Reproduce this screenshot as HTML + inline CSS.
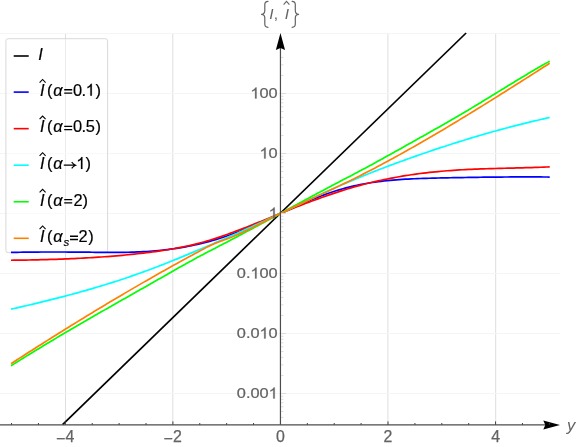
<!DOCTYPE html>
<html><head><meta charset="utf-8"><title>plot</title>
<style>html,body{margin:0;padding:0;background:#fff;}body{width:576px;height:447px;overflow:hidden;position:relative;font-family:"Liberation Sans",sans-serif;}</style></head>
<body>
<svg width="576" height="447" viewBox="0 0 576 447" style="position:absolute;left:0;top:0;will-change:transform;opacity:0.999">
<rect width="576" height="447" fill="#fff"/>
<line x1="65.5" y1="33" x2="65.5" y2="424.5" stroke="#dedede" stroke-width="1"/>
<line x1="172.8" y1="33" x2="172.8" y2="424.5" stroke="#dedede" stroke-width="1"/>
<line x1="387.9" y1="33" x2="387.9" y2="424.5" stroke="#dedede" stroke-width="1"/>
<line x1="495.7" y1="33" x2="495.7" y2="424.5" stroke="#dedede" stroke-width="1"/>
<line x1="0" y1="33.50" x2="560" y2="33.50" stroke="#f5f5f5" stroke-width="1"/>
<line x1="0" y1="93.50" x2="560" y2="93.50" stroke="#f5f5f5" stroke-width="1"/>
<line x1="0" y1="153.50" x2="560" y2="153.50" stroke="#f5f5f5" stroke-width="1"/>
<line x1="0" y1="213.50" x2="560" y2="213.50" stroke="#f5f5f5" stroke-width="1"/>
<line x1="0" y1="273.50" x2="560" y2="273.50" stroke="#f5f5f5" stroke-width="1"/>
<line x1="0" y1="333.50" x2="560" y2="333.50" stroke="#f5f5f5" stroke-width="1"/>
<line x1="0" y1="393.50" x2="560" y2="393.50" stroke="#f5f5f5" stroke-width="1"/>
<rect x="5.9" y="38.7" width="101.7" height="213.9" rx="2.2" ry="2.2" fill="rgba(255,255,255,0.4)" stroke="#d9d9d9" stroke-width="1"/>
<g font-family="Liberation Sans, sans-serif" font-size="16.4" fill="#000" stroke="#000" stroke-width="0.2">
<line x1="13.7" y1="56.0" x2="28.7" y2="56.0" stroke="#000000" stroke-width="1.6"/>
<text x="38.3" y="59.8" font-style="italic">I</text>
<line x1="13.7" y1="92.1" x2="28.7" y2="92.1" stroke="#0000ff" stroke-width="1.6"/>
<text x="40.0" y="95.65" font-style="italic">I</text>
<path d="M39.6 82.55000000000001 L42.6 79.45 L45.6 82.55000000000001" fill="none" stroke="#000" stroke-width="1.1"/>
<text x="46.9" y="95.65">(</text>
<text x="53.2" y="95.65" font-style="italic">α</text>
<path d="M64.2 89.75 h8 M64.2 93.05000000000001 h8" fill="none" stroke="#000" stroke-width="1.35"/><text x="73.1" y="95.65">0</text><text x="81.6" y="95.65">.</text><g transform="translate(85.70 95.65) scale(1.0 1)" font-size="16.4"><path vector-effect="non-scaling-stroke" transform="translate(0.00 0) scale(0.00801 -0.00801)" d="M763 0H583V1147Q518 1085 412.5 1023Q307 961 223 930V1104Q374 1175 487 1276Q600 1377 647 1472H763Z"/></g><text x="95.5" y="95.65">)</text>
<line x1="13.7" y1="128.64999999999998" x2="28.7" y2="128.64999999999998" stroke="#ff0000" stroke-width="1.6"/>
<text x="40.0" y="132.27" font-style="italic">I</text>
<path d="M39.6 119.17000000000002 L42.6 116.07000000000001 L45.6 119.17000000000002" fill="none" stroke="#000" stroke-width="1.1"/>
<text x="46.9" y="132.27">(</text>
<text x="53.2" y="132.27" font-style="italic">α</text>
<path d="M64.2 126.37 h8 M64.2 129.67000000000002 h8" fill="none" stroke="#000" stroke-width="1.35"/><text x="73.1" y="132.27">0</text><text x="81.6" y="132.27">.</text><g transform="translate(85.70 132.27) scale(1.0 1)" font-size="16.4"><text x="0.00" y="0">5</text></g><text x="95.5" y="132.27">)</text>
<line x1="13.7" y1="165.2" x2="28.7" y2="165.2" stroke="#00ffff" stroke-width="1.6"/>
<text x="40.0" y="168.89" font-style="italic">I</text>
<path d="M39.6 155.79 L42.6 152.69 L45.6 155.79" fill="none" stroke="#000" stroke-width="1.1"/>
<text x="46.9" y="168.89">(</text>
<text x="53.2" y="168.89" font-style="italic">α</text>
<path d="M63.8 165.19 L75.3 165.19 M71.7 161.99 Q73.0 164.19 75.6 165.19 Q73.0 166.19 71.7 168.39" fill="none" stroke="#000" stroke-width="1.15"/>
<g transform="translate(76.30 168.89) scale(1.0 1)" font-size="16.4"><path vector-effect="non-scaling-stroke" transform="translate(0.00 0) scale(0.00801 -0.00801)" d="M763 0H583V1147Q518 1085 412.5 1023Q307 961 223 930V1104Q374 1175 487 1276Q600 1377 647 1472H763Z"/></g><text x="85.6" y="168.89">)</text>
<line x1="13.7" y1="201.75" x2="28.7" y2="201.75" stroke="#00ff00" stroke-width="1.6"/>
<text x="40.0" y="205.51" font-style="italic">I</text>
<path d="M39.6 192.41 L42.6 189.31 L45.6 192.41" fill="none" stroke="#000" stroke-width="1.1"/>
<text x="46.9" y="205.51">(</text>
<text x="53.2" y="205.51" font-style="italic">α</text>
<path d="M64.2 199.60999999999999 h8 M64.2 202.91 h8" fill="none" stroke="#000" stroke-width="1.35"/><text x="73.6" y="205.51">2</text><text x="82.5" y="205.51">)</text>
<line x1="13.7" y1="238.29999999999998" x2="28.7" y2="238.29999999999998" stroke="#ff8000" stroke-width="1.6"/>
<text x="40.0" y="242.13" font-style="italic">I</text>
<path d="M39.6 229.03 L42.6 225.93 L45.6 229.03" fill="none" stroke="#000" stroke-width="1.1"/>
<text x="46.9" y="242.13">(</text>
<text x="53.2" y="242.13" font-style="italic">α</text>
<text x="63.4" y="245.63" font-style="italic" font-size="11.5">s</text><path d="M70.0 236.23 h8 M70.0 239.53 h8" fill="none" stroke="#000" stroke-width="1.35"/><text x="78.6" y="242.13">2</text><text x="88.3" y="242.13">)</text>
</g>
<path d="M62.59 424.6 L466.10 33.0" fill="none" stroke="#000" stroke-width="1.7"/>
<path d="M11.00 252.43 L14.01 252.37 L17.02 252.30 L20.03 252.25 L23.04 252.20 L26.05 252.16 L29.06 252.12 L32.07 252.08 L35.08 252.06 L38.09 252.03 L41.09 252.01 L44.10 252.00 L47.11 251.99 L50.12 251.99 L53.13 251.98 L56.14 251.99 L59.15 251.99 L62.16 252.00 L65.17 252.02 L68.18 252.03 L71.19 252.05 L74.20 252.07 L77.21 252.10 L80.22 252.13 L83.23 252.16 L86.24 252.19 L89.25 252.22 L92.26 252.26 L95.27 252.29 L98.28 252.32 L101.28 252.35 L104.29 252.37 L107.30 252.39 L110.31 252.40 L113.32 252.40 L116.33 252.39 L119.34 252.37 L122.35 252.34 L125.36 252.30 L128.37 252.24 L131.38 252.16 L134.39 252.07 L137.40 251.96 L140.41 251.83 L143.42 251.67 L146.43 251.50 L149.44 251.30 L152.45 251.08 L155.46 250.83 L158.47 250.56 L161.47 250.26 L164.48 249.93 L167.49 249.57 L170.50 249.19 L173.51 248.78 L176.52 248.33 L179.53 247.86 L182.54 247.36 L185.55 246.83 L188.56 246.26 L191.57 245.66 L194.58 245.03 L197.59 244.37 L200.60 243.67 L203.61 242.93 L206.62 242.17 L209.63 241.36 L212.64 240.52 L215.65 239.65 L218.66 238.73 L221.66 237.78 L224.67 236.79 L227.68 235.76 L230.69 234.69 L233.70 233.58 L236.71 232.44 L239.72 231.27 L242.73 230.07 L245.74 228.84 L248.75 227.58 L251.76 226.31 L254.77 225.01 L257.78 223.69 L260.79 222.36 L263.80 221.02 L266.81 219.66 L269.82 218.29 L272.83 216.92 L275.84 215.55 L278.85 214.17 L281.85 212.79 L284.86 211.42 L287.87 210.05 L290.88 208.69 L293.89 207.34 L296.90 206.00 L299.91 204.67 L302.92 203.36 L305.93 202.08 L308.94 200.81 L311.95 199.56 L314.96 198.35 L317.97 197.16 L320.98 196.00 L323.99 194.87 L327.00 193.78 L330.01 192.73 L333.02 191.72 L336.03 190.75 L339.04 189.83 L342.04 188.95 L345.05 188.12 L348.06 187.33 L351.07 186.59 L354.08 185.89 L357.09 185.24 L360.10 184.62 L363.11 184.04 L366.12 183.50 L369.13 182.99 L372.14 182.52 L375.15 182.08 L378.16 181.68 L381.17 181.30 L384.18 180.95 L387.19 180.63 L390.20 180.34 L393.21 180.07 L396.22 179.82 L399.23 179.59 L402.23 179.39 L405.24 179.20 L408.25 179.04 L411.26 178.89 L414.27 178.75 L417.28 178.62 L420.29 178.51 L423.30 178.41 L426.31 178.32 L429.32 178.24 L432.33 178.16 L435.34 178.09 L438.35 178.02 L441.36 177.95 L444.37 177.89 L447.38 177.83 L450.39 177.76 L453.40 177.70 L456.41 177.65 L459.42 177.59 L462.42 177.54 L465.43 177.48 L468.44 177.43 L471.45 177.39 L474.46 177.34 L477.47 177.30 L480.48 177.25 L483.49 177.21 L486.50 177.18 L489.51 177.14 L492.52 177.11 L495.53 177.08 L498.54 177.05 L501.55 177.03 L504.56 177.01 L507.57 176.99 L510.58 176.97 L513.59 176.96 L516.60 176.95 L519.61 176.94 L522.61 176.93 L525.62 176.93 L528.63 176.93 L531.64 176.94 L534.65 176.94 L537.66 176.95 L540.67 176.97 L543.68 176.99 L546.69 177.01 L549.70 177.03" fill="none" stroke="#0000ff" stroke-width="1.7" stroke-linejoin="round"/>
<path d="M11.00 260.26 L14.01 260.22 L17.02 260.18 L20.03 260.14 L23.04 260.09 L26.05 260.04 L29.06 259.98 L32.07 259.92 L35.08 259.86 L38.09 259.79 L41.09 259.72 L44.10 259.64 L47.11 259.56 L50.12 259.47 L53.13 259.37 L56.14 259.28 L59.15 259.17 L62.16 259.06 L65.17 258.94 L68.18 258.82 L71.19 258.69 L74.20 258.55 L77.21 258.41 L80.22 258.26 L83.23 258.10 L86.24 257.93 L89.25 257.76 L92.26 257.58 L95.27 257.39 L98.28 257.19 L101.28 256.98 L104.29 256.77 L107.30 256.54 L110.31 256.31 L113.32 256.07 L116.33 255.81 L119.34 255.55 L122.35 255.28 L125.36 255.00 L128.37 254.70 L131.38 254.40 L134.39 254.09 L137.40 253.76 L140.41 253.43 L143.42 253.08 L146.43 252.72 L149.44 252.35 L152.45 251.96 L155.46 251.56 L158.47 251.14 L161.47 250.71 L164.48 250.25 L167.49 249.78 L170.50 249.28 L173.51 248.76 L176.52 248.21 L179.53 247.64 L182.54 247.04 L185.55 246.41 L188.56 245.76 L191.57 245.07 L194.58 244.34 L197.59 243.59 L200.60 242.80 L203.61 241.97 L206.62 241.10 L209.63 240.21 L212.64 239.28 L215.65 238.32 L218.66 237.34 L221.66 236.33 L224.67 235.29 L227.68 234.23 L230.69 233.14 L233.70 232.04 L236.71 230.91 L239.72 229.77 L242.73 228.61 L245.74 227.44 L248.75 226.26 L251.76 225.06 L254.77 223.86 L257.78 222.65 L260.79 221.43 L263.80 220.20 L266.81 218.97 L269.82 217.74 L272.83 216.51 L275.84 215.28 L278.85 214.06 L281.85 212.84 L284.86 211.62 L287.87 210.41 L290.88 209.21 L293.89 208.01 L296.90 206.83 L299.91 205.65 L302.92 204.49 L305.93 203.33 L308.94 202.19 L311.95 201.06 L314.96 199.94 L317.97 198.84 L320.98 197.75 L323.99 196.68 L327.00 195.63 L330.01 194.59 L333.02 193.57 L336.03 192.57 L339.04 191.59 L342.04 190.63 L345.05 189.69 L348.06 188.78 L351.07 187.88 L354.08 187.01 L357.09 186.17 L360.10 185.35 L363.11 184.55 L366.12 183.77 L369.13 183.02 L372.14 182.29 L375.15 181.59 L378.16 180.90 L381.17 180.24 L384.18 179.60 L387.19 178.98 L390.20 178.38 L393.21 177.81 L396.22 177.25 L399.23 176.72 L402.23 176.20 L405.24 175.71 L408.25 175.23 L411.26 174.78 L414.27 174.34 L417.28 173.93 L420.29 173.53 L423.30 173.15 L426.31 172.79 L429.32 172.45 L432.33 172.12 L435.34 171.82 L438.35 171.53 L441.36 171.26 L444.37 171.00 L447.38 170.76 L450.39 170.54 L453.40 170.33 L456.41 170.13 L459.42 169.95 L462.42 169.77 L465.43 169.61 L468.44 169.47 L471.45 169.33 L474.46 169.20 L477.47 169.08 L480.48 168.96 L483.49 168.86 L486.50 168.76 L489.51 168.66 L492.52 168.57 L495.53 168.49 L498.54 168.41 L501.55 168.33 L504.56 168.26 L507.57 168.18 L510.58 168.11 L513.59 168.03 L516.60 167.96 L519.61 167.88 L522.61 167.80 L525.62 167.72 L528.63 167.64 L531.64 167.55 L534.65 167.45 L537.66 167.35 L540.67 167.24 L543.68 167.13 L546.69 167.00 L549.70 166.87" fill="none" stroke="#ff0000" stroke-width="1.7" stroke-linejoin="round"/>
<path d="M11.00 309.20 L14.01 308.52 L17.02 307.83 L20.03 307.14 L23.04 306.44 L26.05 305.74 L29.06 305.04 L32.07 304.33 L35.08 303.61 L38.09 302.89 L41.09 302.16 L44.10 301.42 L47.11 300.68 L50.12 299.93 L53.13 299.17 L56.14 298.41 L59.15 297.64 L62.16 296.86 L65.17 296.07 L68.18 295.27 L71.19 294.47 L74.20 293.66 L77.21 292.83 L80.22 292.00 L83.23 291.16 L86.24 290.31 L89.25 289.44 L92.26 288.57 L95.27 287.69 L98.28 286.80 L101.28 285.89 L104.29 284.97 L107.30 284.05 L110.31 283.11 L113.32 282.15 L116.33 281.19 L119.34 280.21 L122.35 279.22 L125.36 278.22 L128.37 277.20 L131.38 276.17 L134.39 275.13 L137.40 274.07 L140.41 273.00 L143.42 271.91 L146.43 270.81 L149.44 269.69 L152.45 268.56 L155.46 267.42 L158.47 266.26 L161.47 265.10 L164.48 263.92 L167.49 262.72 L170.50 261.52 L173.51 260.31 L176.52 259.09 L179.53 257.86 L182.54 256.63 L185.55 255.38 L188.56 254.13 L191.57 252.87 L194.58 251.61 L197.59 250.34 L200.60 249.06 L203.61 247.78 L206.62 246.50 L209.63 245.21 L212.64 243.92 L215.65 242.63 L218.66 241.32 L221.66 240.02 L224.67 238.71 L227.68 237.39 L230.69 236.07 L233.70 234.74 L236.71 233.41 L239.72 232.07 L242.73 230.73 L245.74 229.38 L248.75 228.03 L251.76 226.67 L254.77 225.31 L257.78 223.93 L260.79 222.56 L263.80 221.17 L266.81 219.78 L269.82 218.39 L272.83 216.99 L275.84 215.58 L278.85 214.16 L281.85 212.74 L284.86 211.31 L287.87 209.88 L290.88 208.44 L293.89 207.00 L296.90 205.56 L299.91 204.12 L302.92 202.68 L305.93 201.25 L308.94 199.82 L311.95 198.39 L314.96 196.97 L317.97 195.56 L320.98 194.16 L323.99 192.77 L327.00 191.39 L330.01 190.02 L333.02 188.67 L336.03 187.33 L339.04 186.01 L342.04 184.70 L345.05 183.41 L348.06 182.13 L351.07 180.86 L354.08 179.61 L357.09 178.37 L360.10 177.14 L363.11 175.92 L366.12 174.71 L369.13 173.52 L372.14 172.33 L375.15 171.15 L378.16 169.98 L381.17 168.82 L384.18 167.67 L387.19 166.53 L390.20 165.40 L393.21 164.28 L396.22 163.16 L399.23 162.06 L402.23 160.96 L405.24 159.87 L408.25 158.79 L411.26 157.72 L414.27 156.66 L417.28 155.60 L420.29 154.55 L423.30 153.51 L426.31 152.48 L429.32 151.45 L432.33 150.43 L435.34 149.42 L438.35 148.42 L441.36 147.43 L444.37 146.44 L447.38 145.46 L450.39 144.49 L453.40 143.53 L456.41 142.57 L459.42 141.63 L462.42 140.69 L465.43 139.76 L468.44 138.84 L471.45 137.93 L474.46 137.03 L477.47 136.14 L480.48 135.25 L483.49 134.37 L486.50 133.51 L489.51 132.65 L492.52 131.80 L495.53 130.96 L498.54 130.13 L501.55 129.31 L504.56 128.50 L507.57 127.70 L510.58 126.90 L513.59 126.12 L516.60 125.35 L519.61 124.59 L522.61 123.83 L525.62 123.09 L528.63 122.36 L531.64 121.63 L534.65 120.92 L537.66 120.22 L540.67 119.53 L543.68 118.85 L546.69 118.18 L549.70 117.51" fill="none" stroke="#00ffff" stroke-width="1.7" stroke-linejoin="round"/>
<path d="M11.00 365.79 L14.01 363.89 L17.02 362.00 L20.03 360.11 L23.04 358.24 L26.05 356.37 L29.06 354.51 L32.07 352.66 L35.08 350.82 L38.09 348.98 L41.09 347.16 L44.10 345.34 L47.11 343.52 L50.12 341.72 L53.13 339.92 L56.14 338.13 L59.15 336.34 L62.16 334.56 L65.17 332.79 L68.18 331.02 L71.19 329.25 L74.20 327.49 L77.21 325.74 L80.22 323.99 L83.23 322.24 L86.24 320.50 L89.25 318.77 L92.26 317.03 L95.27 315.30 L98.28 313.58 L101.28 311.85 L104.29 310.13 L107.30 308.41 L110.31 306.69 L113.32 304.98 L116.33 303.27 L119.34 301.56 L122.35 299.85 L125.36 298.14 L128.37 296.43 L131.38 294.72 L134.39 293.02 L137.40 291.31 L140.41 289.60 L143.42 287.90 L146.43 286.19 L149.44 284.48 L152.45 282.77 L155.46 281.06 L158.47 279.35 L161.47 277.64 L164.48 275.92 L167.49 274.20 L170.50 272.49 L173.51 270.77 L176.52 269.06 L179.53 267.36 L182.54 265.66 L185.55 263.97 L188.56 262.30 L191.57 260.64 L194.58 258.99 L197.59 257.36 L200.60 255.75 L203.61 254.15 L206.62 252.57 L209.63 251.01 L212.64 249.45 L215.65 247.90 L218.66 246.35 L221.66 244.79 L224.67 243.23 L227.68 241.66 L230.69 240.08 L233.70 238.50 L236.71 236.91 L239.72 235.32 L242.73 233.72 L245.74 232.12 L248.75 230.51 L251.76 228.90 L254.77 227.28 L257.78 225.67 L260.79 224.04 L263.80 222.42 L266.81 220.79 L269.82 219.16 L272.83 217.53 L275.84 215.90 L278.85 214.27 L281.85 212.63 L284.86 211.00 L287.87 209.37 L290.88 207.73 L293.89 206.10 L296.90 204.47 L299.91 202.84 L302.92 201.21 L305.93 199.59 L308.94 197.96 L311.95 196.34 L314.96 194.72 L317.97 193.11 L320.98 191.50 L323.99 189.89 L327.00 188.29 L330.01 186.70 L333.02 185.11 L336.03 183.52 L339.04 181.94 L342.04 180.36 L345.05 178.78 L348.06 177.21 L351.07 175.63 L354.08 174.05 L357.09 172.46 L360.10 170.86 L363.11 169.26 L366.12 167.65 L369.13 166.02 L372.14 164.39 L375.15 162.75 L378.16 161.10 L381.17 159.44 L384.18 157.78 L387.19 156.11 L390.20 154.44 L393.21 152.76 L396.22 151.08 L399.23 149.39 L402.23 147.70 L405.24 146.02 L408.25 144.33 L411.26 142.64 L414.27 140.95 L417.28 139.26 L420.29 137.57 L423.30 135.89 L426.31 134.20 L429.32 132.50 L432.33 130.81 L435.34 129.11 L438.35 127.40 L441.36 125.69 L444.37 123.98 L447.38 122.25 L450.39 120.52 L453.40 118.78 L456.41 117.04 L459.42 115.28 L462.42 113.51 L465.43 111.73 L468.44 109.94 L471.45 108.14 L474.46 106.32 L477.47 104.50 L480.48 102.68 L483.49 100.84 L486.50 99.01 L489.51 97.16 L492.52 95.32 L495.53 93.47 L498.54 91.62 L501.55 89.77 L504.56 87.93 L507.57 86.09 L510.58 84.25 L513.59 82.41 L516.60 80.58 L519.61 78.76 L522.61 76.95 L525.62 75.15 L528.63 73.35 L531.64 71.57 L534.65 69.80 L537.66 68.05 L540.67 66.31 L543.68 64.59 L546.69 62.88 L549.70 61.19" fill="none" stroke="#00ff00" stroke-width="1.7" stroke-linejoin="round"/>
<path d="M11.00 363.71 L14.01 361.76 L17.02 359.82 L20.03 357.88 L23.04 355.94 L26.05 354.01 L29.06 352.09 L32.07 350.16 L35.08 348.25 L38.09 346.33 L41.09 344.42 L44.10 342.52 L47.11 340.62 L50.12 338.72 L53.13 336.83 L56.14 334.94 L59.15 333.06 L62.16 331.18 L65.17 329.31 L68.18 327.44 L71.19 325.58 L74.20 323.72 L77.21 321.86 L80.22 320.01 L83.23 318.17 L86.24 316.33 L89.25 314.49 L92.26 312.67 L95.27 310.84 L98.28 309.02 L101.28 307.21 L104.29 305.40 L107.30 303.60 L110.31 301.80 L113.32 300.01 L116.33 298.22 L119.34 296.44 L122.35 294.66 L125.36 292.89 L128.37 291.12 L131.38 289.36 L134.39 287.61 L137.40 285.86 L140.41 284.12 L143.42 282.38 L146.43 280.65 L149.44 278.93 L152.45 277.21 L155.46 275.49 L158.47 273.79 L161.47 272.09 L164.48 270.39 L167.49 268.70 L170.50 267.02 L173.51 265.34 L176.52 263.67 L179.53 262.01 L182.54 260.35 L185.55 258.70 L188.56 257.06 L191.57 255.42 L194.58 253.79 L197.59 252.16 L200.60 250.54 L203.61 248.94 L206.62 247.37 L209.63 245.87 L212.64 244.45 L215.65 243.15 L218.66 241.97 L221.66 240.85 L224.67 239.77 L227.68 238.66 L230.69 237.49 L233.70 236.26 L236.71 234.98 L239.72 233.65 L242.73 232.28 L245.74 230.87 L248.75 229.42 L251.76 227.95 L254.77 226.45 L257.78 224.94 L260.79 223.41 L263.80 221.87 L266.81 220.33 L269.82 218.78 L272.83 217.24 L275.84 215.71 L278.85 214.20 L281.85 212.71 L284.86 211.23 L287.87 209.78 L290.88 208.34 L293.89 206.92 L296.90 205.51 L299.91 204.11 L302.92 202.72 L305.93 201.34 L308.94 199.96 L311.95 198.58 L314.96 197.21 L317.97 195.84 L320.98 194.46 L323.99 193.08 L327.00 191.69 L330.01 190.30 L333.02 188.89 L336.03 187.47 L339.04 186.04 L342.04 184.59 L345.05 183.13 L348.06 181.66 L351.07 180.18 L354.08 178.68 L357.09 177.17 L360.10 175.65 L363.11 174.12 L366.12 172.58 L369.13 171.02 L372.14 169.45 L375.15 167.88 L378.16 166.29 L381.17 164.69 L384.18 163.08 L387.19 161.46 L390.20 159.82 L393.21 158.18 L396.22 156.53 L399.23 154.87 L402.23 153.20 L405.24 151.52 L408.25 149.83 L411.26 148.13 L414.27 146.43 L417.28 144.71 L420.29 142.99 L423.30 141.25 L426.31 139.51 L429.32 137.76 L432.33 136.01 L435.34 134.24 L438.35 132.47 L441.36 130.69 L444.37 128.90 L447.38 127.11 L450.39 125.31 L453.40 123.50 L456.41 121.69 L459.42 119.87 L462.42 118.05 L465.43 116.21 L468.44 114.38 L471.45 112.53 L474.46 110.69 L477.47 108.83 L480.48 106.97 L483.49 105.11 L486.50 103.24 L489.51 101.37 L492.52 99.49 L495.53 97.61 L498.54 95.73 L501.55 93.84 L504.56 91.94 L507.57 90.05 L510.58 88.15 L513.59 86.25 L516.60 84.34 L519.61 82.43 L522.61 80.52 L525.62 78.61 L528.63 76.69 L531.64 74.77 L534.65 72.85 L537.66 70.93 L540.67 69.01 L543.68 67.08 L546.69 65.16 L549.70 63.23" fill="none" stroke="#ff8000" stroke-width="1.7" stroke-linejoin="round"/>
<line x1="0" y1="424.8" x2="546" y2="424.8" stroke="#4c4c4c" stroke-width="1.15"/>
<line x1="280.45" y1="424.8" x2="280.45" y2="48" stroke="#4c4c4c" stroke-width="1.2"/>
<path d="M280.45 33 L285.05 50 L280.45 48 L275.84999999999997 50 Z" fill="#000"/>
<path d="M560 425 L543.3 420.5 L545.3 425 L543.3 429.5 Z" fill="#000"/>
<line x1="11.55" y1="424.8" x2="11.55" y2="423.0" stroke="#404040" stroke-width="1"/>
<line x1="38.44" y1="424.8" x2="38.44" y2="423.0" stroke="#404040" stroke-width="1"/>
<line x1="65.33" y1="424.8" x2="65.33" y2="421.40000000000003" stroke="#404040" stroke-width="1"/>
<line x1="92.22" y1="424.8" x2="92.22" y2="423.0" stroke="#404040" stroke-width="1"/>
<line x1="119.11" y1="424.8" x2="119.11" y2="423.0" stroke="#404040" stroke-width="1"/>
<line x1="146.00" y1="424.8" x2="146.00" y2="423.0" stroke="#404040" stroke-width="1"/>
<line x1="172.89" y1="424.8" x2="172.89" y2="421.40000000000003" stroke="#404040" stroke-width="1"/>
<line x1="199.78" y1="424.8" x2="199.78" y2="423.0" stroke="#404040" stroke-width="1"/>
<line x1="226.67" y1="424.8" x2="226.67" y2="423.0" stroke="#404040" stroke-width="1"/>
<line x1="253.56" y1="424.8" x2="253.56" y2="423.0" stroke="#404040" stroke-width="1"/>
<line x1="307.34" y1="424.8" x2="307.34" y2="423.0" stroke="#404040" stroke-width="1"/>
<line x1="334.23" y1="424.8" x2="334.23" y2="423.0" stroke="#404040" stroke-width="1"/>
<line x1="361.12" y1="424.8" x2="361.12" y2="423.0" stroke="#404040" stroke-width="1"/>
<line x1="388.01" y1="424.8" x2="388.01" y2="421.40000000000003" stroke="#404040" stroke-width="1"/>
<line x1="414.90" y1="424.8" x2="414.90" y2="423.0" stroke="#404040" stroke-width="1"/>
<line x1="441.79" y1="424.8" x2="441.79" y2="423.0" stroke="#404040" stroke-width="1"/>
<line x1="468.68" y1="424.8" x2="468.68" y2="423.0" stroke="#404040" stroke-width="1"/>
<line x1="495.57" y1="424.8" x2="495.57" y2="421.40000000000003" stroke="#404040" stroke-width="1"/>
<line x1="522.46" y1="424.8" x2="522.46" y2="423.0" stroke="#404040" stroke-width="1"/>
<line x1="549.35" y1="424.8" x2="549.35" y2="423.0" stroke="#404040" stroke-width="1"/>
<line x1="281.05" y1="417.38" x2="283.45" y2="417.38" stroke="#dadada" stroke-width="1"/>
<line x1="281.05" y1="411.56" x2="283.45" y2="411.56" stroke="#dadada" stroke-width="1"/>
<line x1="281.05" y1="406.81" x2="283.45" y2="406.81" stroke="#dadada" stroke-width="1"/>
<line x1="281.05" y1="402.79" x2="283.45" y2="402.79" stroke="#dadada" stroke-width="1"/>
<line x1="281.05" y1="399.31" x2="283.45" y2="399.31" stroke="#dadada" stroke-width="1"/>
<line x1="281.05" y1="396.25" x2="283.45" y2="396.25" stroke="#dadada" stroke-width="1"/>
<line x1="281.05" y1="393.50" x2="286.05" y2="393.50" stroke="#dadada" stroke-width="1"/>
<line x1="281.05" y1="375.44" x2="283.45" y2="375.44" stroke="#dadada" stroke-width="1"/>
<line x1="281.05" y1="364.87" x2="283.45" y2="364.87" stroke="#dadada" stroke-width="1"/>
<line x1="281.05" y1="357.38" x2="283.45" y2="357.38" stroke="#dadada" stroke-width="1"/>
<line x1="281.05" y1="351.56" x2="283.45" y2="351.56" stroke="#dadada" stroke-width="1"/>
<line x1="281.05" y1="346.81" x2="283.45" y2="346.81" stroke="#dadada" stroke-width="1"/>
<line x1="281.05" y1="342.79" x2="283.45" y2="342.79" stroke="#dadada" stroke-width="1"/>
<line x1="281.05" y1="339.31" x2="283.45" y2="339.31" stroke="#dadada" stroke-width="1"/>
<line x1="281.05" y1="336.25" x2="283.45" y2="336.25" stroke="#dadada" stroke-width="1"/>
<line x1="281.05" y1="333.50" x2="286.05" y2="333.50" stroke="#dadada" stroke-width="1"/>
<line x1="281.05" y1="315.44" x2="283.45" y2="315.44" stroke="#dadada" stroke-width="1"/>
<line x1="281.05" y1="304.87" x2="283.45" y2="304.87" stroke="#dadada" stroke-width="1"/>
<line x1="281.05" y1="297.38" x2="283.45" y2="297.38" stroke="#dadada" stroke-width="1"/>
<line x1="281.05" y1="291.56" x2="283.45" y2="291.56" stroke="#dadada" stroke-width="1"/>
<line x1="281.05" y1="286.81" x2="283.45" y2="286.81" stroke="#dadada" stroke-width="1"/>
<line x1="281.05" y1="282.79" x2="283.45" y2="282.79" stroke="#dadada" stroke-width="1"/>
<line x1="281.05" y1="279.31" x2="283.45" y2="279.31" stroke="#dadada" stroke-width="1"/>
<line x1="281.05" y1="276.25" x2="283.45" y2="276.25" stroke="#dadada" stroke-width="1"/>
<line x1="281.05" y1="273.50" x2="286.05" y2="273.50" stroke="#dadada" stroke-width="1"/>
<line x1="281.05" y1="255.44" x2="283.45" y2="255.44" stroke="#dadada" stroke-width="1"/>
<line x1="281.05" y1="244.87" x2="283.45" y2="244.87" stroke="#dadada" stroke-width="1"/>
<line x1="281.05" y1="237.38" x2="283.45" y2="237.38" stroke="#dadada" stroke-width="1"/>
<line x1="281.05" y1="231.56" x2="283.45" y2="231.56" stroke="#dadada" stroke-width="1"/>
<line x1="281.05" y1="226.81" x2="283.45" y2="226.81" stroke="#dadada" stroke-width="1"/>
<line x1="281.05" y1="222.79" x2="283.45" y2="222.79" stroke="#dadada" stroke-width="1"/>
<line x1="281.05" y1="219.31" x2="283.45" y2="219.31" stroke="#dadada" stroke-width="1"/>
<line x1="281.05" y1="216.25" x2="283.45" y2="216.25" stroke="#dadada" stroke-width="1"/>
<line x1="281.05" y1="213.50" x2="286.05" y2="213.50" stroke="#dadada" stroke-width="1"/>
<line x1="281.05" y1="195.44" x2="283.45" y2="195.44" stroke="#dadada" stroke-width="1"/>
<line x1="281.05" y1="184.87" x2="283.45" y2="184.87" stroke="#dadada" stroke-width="1"/>
<line x1="281.05" y1="177.38" x2="283.45" y2="177.38" stroke="#dadada" stroke-width="1"/>
<line x1="281.05" y1="171.56" x2="283.45" y2="171.56" stroke="#dadada" stroke-width="1"/>
<line x1="281.05" y1="166.81" x2="283.45" y2="166.81" stroke="#dadada" stroke-width="1"/>
<line x1="281.05" y1="162.79" x2="283.45" y2="162.79" stroke="#dadada" stroke-width="1"/>
<line x1="281.05" y1="159.31" x2="283.45" y2="159.31" stroke="#dadada" stroke-width="1"/>
<line x1="281.05" y1="156.25" x2="283.45" y2="156.25" stroke="#dadada" stroke-width="1"/>
<line x1="281.05" y1="153.50" x2="286.05" y2="153.50" stroke="#dadada" stroke-width="1"/>
<line x1="281.05" y1="135.44" x2="283.45" y2="135.44" stroke="#dadada" stroke-width="1"/>
<line x1="281.05" y1="124.87" x2="283.45" y2="124.87" stroke="#dadada" stroke-width="1"/>
<line x1="281.05" y1="117.38" x2="283.45" y2="117.38" stroke="#dadada" stroke-width="1"/>
<line x1="281.05" y1="111.56" x2="283.45" y2="111.56" stroke="#dadada" stroke-width="1"/>
<line x1="281.05" y1="106.81" x2="283.45" y2="106.81" stroke="#dadada" stroke-width="1"/>
<line x1="281.05" y1="102.79" x2="283.45" y2="102.79" stroke="#dadada" stroke-width="1"/>
<line x1="281.05" y1="99.31" x2="283.45" y2="99.31" stroke="#dadada" stroke-width="1"/>
<line x1="281.05" y1="96.25" x2="283.45" y2="96.25" stroke="#dadada" stroke-width="1"/>
<line x1="281.05" y1="93.50" x2="286.05" y2="93.50" stroke="#dadada" stroke-width="1"/>
<line x1="281.05" y1="75.44" x2="283.45" y2="75.44" stroke="#dadada" stroke-width="1"/>
<line x1="281.05" y1="64.87" x2="283.45" y2="64.87" stroke="#dadada" stroke-width="1"/>
<line x1="281.05" y1="57.38" x2="283.45" y2="57.38" stroke="#dadada" stroke-width="1"/>
<g font-family="Liberation Sans, sans-serif" font-size="15.2" fill="#636363" stroke="#636363" stroke-width="0.25">
<g transform="translate(250.44 98.45) scale(1.075 1)" font-size="15.2"><path vector-effect="non-scaling-stroke" transform="translate(0.00 0) scale(0.00742 -0.00742)" d="M763 0H583V1147Q518 1085 412.5 1023Q307 961 223 930V1104Q374 1175 487 1276Q600 1377 647 1472H763Z"/><text x="8.45" y="0">0</text><text x="16.90" y="0">0</text></g>
<g transform="translate(259.53 158.45) scale(1.075 1)" font-size="15.2"><path vector-effect="non-scaling-stroke" transform="translate(0.00 0) scale(0.00742 -0.00742)" d="M763 0H583V1147Q518 1085 412.5 1023Q307 961 223 930V1104Q374 1175 487 1276Q600 1377 647 1472H763Z"/><text x="8.45" y="0">0</text></g>
<g transform="translate(268.61 218.45) scale(1.075 1)" font-size="15.2"><path vector-effect="non-scaling-stroke" transform="translate(0.00 0) scale(0.00742 -0.00742)" d="M763 0H583V1147Q518 1085 412.5 1023Q307 961 223 930V1104Q374 1175 487 1276Q600 1377 647 1472H763Z"/></g>
<g transform="translate(236.82 278.45) scale(1.075 1)" font-size="15.2"><text x="0.00" y="0">0</text><text x="8.45" y="0">.</text><path vector-effect="non-scaling-stroke" transform="translate(12.68 0) scale(0.00742 -0.00742)" d="M763 0H583V1147Q518 1085 412.5 1023Q307 961 223 930V1104Q374 1175 487 1276Q600 1377 647 1472H763Z"/><text x="21.13" y="0">0</text><text x="29.58" y="0">0</text></g>
<g transform="translate(236.82 338.45) scale(1.075 1)" font-size="15.2"><text x="0.00" y="0">0</text><text x="8.45" y="0">.</text><text x="12.68" y="0">0</text><path vector-effect="non-scaling-stroke" transform="translate(21.13 0) scale(0.00742 -0.00742)" d="M763 0H583V1147Q518 1085 412.5 1023Q307 961 223 930V1104Q374 1175 487 1276Q600 1377 647 1472H763Z"/><text x="29.58" y="0">0</text></g>
<g transform="translate(236.82 398.45) scale(1.075 1)" font-size="15.2"><text x="0.00" y="0">0</text><text x="8.45" y="0">.</text><text x="12.68" y="0">0</text><text x="21.13" y="0">0</text><path vector-effect="non-scaling-stroke" transform="translate(29.58 0) scale(0.00742 -0.00742)" d="M763 0H583V1147Q518 1085 412.5 1023Q307 961 223 930V1104Q374 1175 487 1276Q600 1377 647 1472H763Z"/></g>
<g transform="translate(56.27 442.10) scale(1.0 1)" font-size="15.9"><text x="-0.40" y="1.4">−</text><text x="9.29" y="0">4</text></g>
<g transform="translate(163.83 442.10) scale(1.0 1)" font-size="15.9"><text x="-0.40" y="1.4">−</text><text x="9.29" y="0">2</text></g>
<g transform="translate(276.03 442.10) scale(1.0 1)" font-size="15.9"><text x="0.00" y="0">0</text></g>
<g transform="translate(383.59 442.10) scale(1.0 1)" font-size="15.9"><text x="0.00" y="0">2</text></g>
<g transform="translate(491.15 442.10) scale(1.0 1)" font-size="15.9"><text x="0.00" y="0">4</text></g>
</g>
<text x="566.9" y="431.1" font-family="Liberation Sans, sans-serif" font-style="italic" font-size="16.5" fill="#636363">y</text>
<g fill="none" stroke="#636363" stroke-width="1.2" stroke-linecap="round" stroke-linejoin="round">
<path d="M268 1.3 C265.3 1.3 264.8 2.3 264.8 4.5 L264.8 10.5 C264.8 13 263.5 14.2 261.5 14.3 C263.5 14.4 264.8 15.6 264.8 18.1 L264.8 24.1 C264.8 26.3 265.3 27.3 268 27.3"/>
<path d="M292.1 1.3 C294.8 1.3 295.3 2.3 295.3 4.5 L295.3 10.5 C295.3 13 296.6 14.2 298.6 14.3 C296.6 14.4 295.3 15.6 295.3 18.1 L295.3 24.1 C295.3 26.3 294.8 27.3 292.1 27.3"/>
<path d="M283.6 4.6 L286.5 1.4 L289.4 4.6" stroke-width="1.1" stroke-linecap="butt" stroke-linejoin="miter"/>
</g>
<g font-family="Liberation Sans, sans-serif" font-size="15.4" fill="#636363">
<text x="269.3" y="18.5" font-style="italic">I</text>
<text x="273.7" y="19.0">,</text>
<text x="284.7" y="18.5" font-style="italic">I</text>
</g>
</svg>
</body></html>
